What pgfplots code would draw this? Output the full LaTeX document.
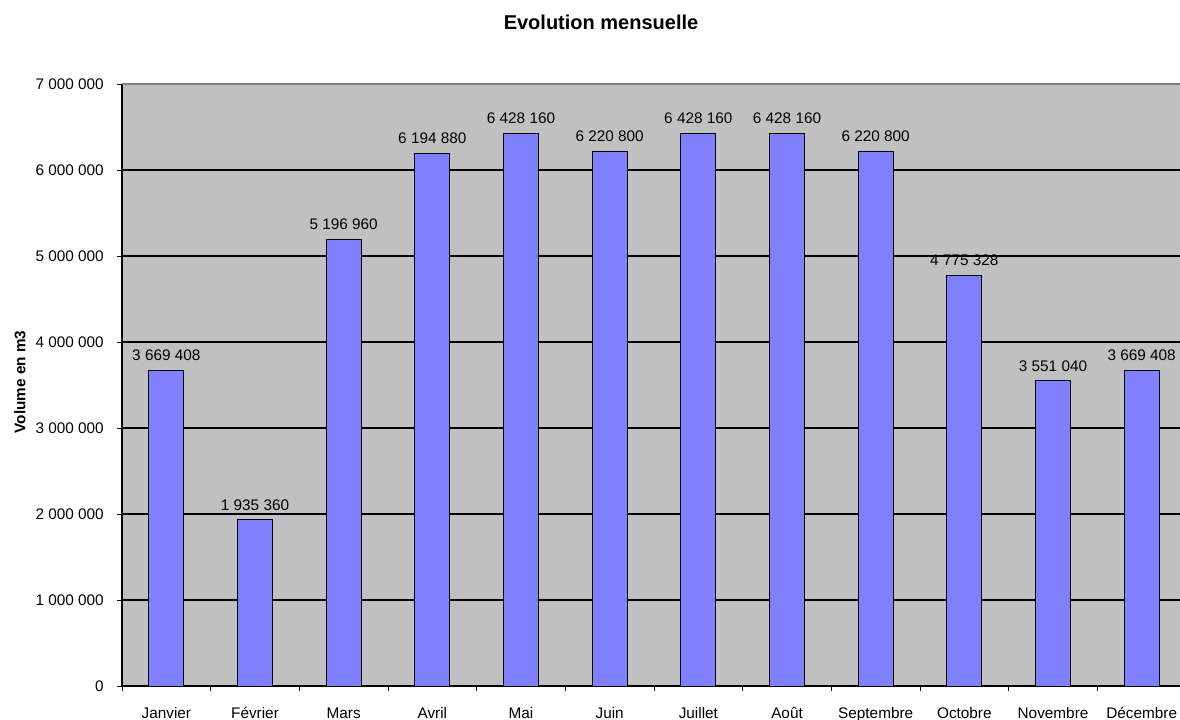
\documentclass[border=0pt]{standalone}
\usepackage{fontspec}
\setmainfont{Liberation Sans}
\usepackage{pgfplots}
\pgfplotsset{compat=1.18}
\definecolor{plotbg}{HTML}{C0C0C0}
\definecolor{barblue}{HTML}{8080FF}
\definecolor{topgray}{HTML}{808080}
\begin{document}
\begin{tikzpicture}
\begin{axis}[
  at={(91.5pt,25.5pt)}, anchor=south west,
  scale only axis, width=798pt, height=451.5pt,
  xmin=-0.5, xmax=11.5, ymin=0, ymax=7000000,
  ybar, bar width=26.25pt,
  axis lines*=left,
  axis line style={black, line width=0.8pt},
  axis background/.style={fill=plotbg},
  xtick={-0.5,0.5,...,11.5},
  xticklabels={Janvier,Février,Mars,Avril,Mai,Juin,Juillet,Août,Septembre,Octobre,Novembre,Décembre,{}},
  xticklabel style={xshift=33.26pt, anchor=base, yshift=-20.6pt, inner sep=0pt},
  ytick={0,1000000,...,6000000},
  extra y ticks={7000000},
  extra y tick style={grid=none},
  scaled y ticks=false,
  ymajorgrids,
  major grid style={black, line width=0.8pt},
  tick align=outside,
  major tick length=3.75pt,
  tick style={black, line width=0.6pt},
  ticklabel style={font=\fontsize{11.5}{13}\selectfont},
  yticklabel style={inner sep=0pt, anchor=east, xshift=-9.75pt},
  /pgf/number format/.cd, fixed, precision=0, 1000 sep={\ }, assume math mode=true,
  /pgfplots/.cd,
  nodes near coords,
  every node near coord/.append style={font=\fontsize{11.5}{13}\selectfont, anchor=base, yshift=7.1pt, inner sep=0pt, black},
  clip=false,
]
\addplot[fill=barblue, draw=black, line width=0.6pt] coordinates {
  (0,3669408) (1,1935360) (2,5196960) (3,6194880) (4,6428160) (5,6220800)
  (6,6428160) (7,6428160) (8,6220800) (9,4775328) (10,3551040) (11,3669408)
};
\draw[topgray, line width=1.2pt] (rel axis cs:0,1) -- (rel axis cs:1,1);
\end{axis}
\node[font=\bfseries\fontsize{15}{17}\selectfont] at (450.75pt,523pt) {Evolution mensuelle};
\node[font=\bfseries\fontsize{11.5}{13}\selectfont, rotate=90] at (15pt,253.5pt) {Volume en m3};
\pgfresetboundingbox
\path (0,0) rectangle (885pt,540pt);
\end{tikzpicture}
\end{document}
